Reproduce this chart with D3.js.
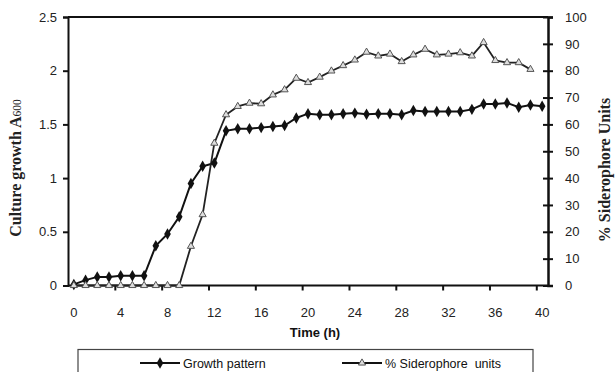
<!DOCTYPE html>
<html>
<head>
<meta charset="utf-8">
<script src="https://cdn.jsdelivr.net/npm/d3@7"></script>
<style>
  body { margin: 0; background: #fff; }
  svg { display: block; }
</style>
</head>
<body>
<div id="chart"></div>
<script>
// hours 0..40
const hours = d3.range(0, 41);

// culture growth (A600), left axis
const growth = [0.01, 0.05, 0.08, 0.08, 0.09, 0.09, 0.09, 0.37, 0.48, 0.64,
  0.95, 1.11, 1.14, 1.44, 1.46, 1.46, 1.47, 1.48, 1.49, 1.56,
  1.60, 1.59, 1.59, 1.60, 1.605, 1.595, 1.60, 1.60, 1.59, 1.63,
  1.62, 1.62, 1.62, 1.62, 1.64, 1.69, 1.69, 1.70, 1.66, 1.68, 1.67];

// % siderophore units, right axis (no reading at 40 h)
const sidero = [0, 0, 0, 0, 0, 0, 0, 0, 0, 0,
  14.6, 26.4, 53, 63.6, 66.7, 67.9, 67.7, 71, 72.9, 77.2,
  75.6, 77.6, 79.9, 81.9, 84, 86.9, 85.5, 86.2, 83.4, 85.9,
  88, 85.9, 86.2, 86.7, 85.5, 90.5, 83.8, 83, 83, 80.5];

const xLabels = [0, 4, 8, 12, 16, 20, 24, 28, 32, 36, 40];
const leftTicks = [0, 0.5, 1, 1.5, 2, 2.5];
const rightTicks = [0, 10, 20, 30, 40, 50, 60, 70, 80, 90, 100];
const seriesNames = ['Growth pattern', '% Siderophore  units'];

const W = 616, H = 372;
const plot = { left: 68, right: 548, top: 17, bottom: 285.5 };

const svg = d3.select('#chart').append('svg')
  .attr('width', W).attr('height', H);

const x = d3.scaleLinear().domain([-0.5, 40.5]).range([plot.left, plot.right]);
const yL = d3.scaleLinear().domain([0, 2.5]).range([plot.bottom, plot.top]);
const yR = d3.scaleLinear().domain([0, 100]).range([plot.bottom, plot.top]);

const tickFont = 'Liberation Sans, Arial, sans-serif';

// top border
svg.append('line')
  .attr('x1', plot.left).attr('x2', plot.right)
  .attr('y1', plot.top).attr('y2', plot.top)
  .attr('stroke', '#111').attr('stroke-width', 2);

// left axis
const gL = svg.append('g')
  .attr('transform', 'translate(' + plot.left + ',0)')
  .call(d3.axisLeft(yL).tickValues(leftTicks).tickFormat(d3.format('~g')).tickSize(5).tickPadding(6));

// right axis
const gR = svg.append('g')
  .attr('transform', 'translate(' + plot.right + ',0)')
  .call(d3.axisRight(yR).tickValues(rightTicks).tickSize(5).tickPadding(12));
gR.selectAll('.tick line').attr('x1', -5);

// bottom axis: ticks between categories, labels on categories
const gB = svg.append('g')
  .attr('transform', 'translate(0,' + plot.bottom + ')')
  .call(d3.axisBottom(x).tickValues(d3.range(3.5, 40, 4)).tickSize(5).tickFormat(''));
gB.select('.domain').attr('d', 'M' + plot.left + ',0H' + plot.right);

svg.append('g').selectAll('text')
  .data(xLabels).join('text')
  .attr('x', d => x(d))
  .attr('y', 317)
  .attr('text-anchor', 'middle')
  .attr('font-family', tickFont)
  .attr('font-size', 13)
  .attr('fill', '#222')
  .text(d => d);

[gL, gR, gB].forEach(g => {
  g.select('.domain').attr('stroke', '#111').attr('stroke-width', 2);
  g.selectAll('.tick line').attr('stroke', '#111').attr('stroke-width', 2);
  g.selectAll('.tick text').attr('font-family', tickFont).attr('font-size', 13).attr('fill', '#222');
});
gR.select('.domain').attr('stroke-width', 2.5);

// lines
const lineG = d3.line().x((d, i) => x(hours[i])).y(d => yL(d));
const lineS = d3.line().x((d, i) => x(hours[i])).y(d => yR(d));

svg.append('path').datum(growth)
  .attr('fill', 'none').attr('stroke', '#111').attr('stroke-width', 2)
  .attr('d', lineG);

svg.append('path').datum(sidero)
  .attr('fill', 'none').attr('stroke', '#222').attr('stroke-width', 1.8)
  .attr('d', lineS);

const diamond = d3.symbol().type(d3.symbolDiamond).size(38);
const triangle = d3.symbol().type(d3.symbolTriangle).size(22);

svg.append('g').selectAll('path')
  .data(growth).join('path')
  .attr('transform', (d, i) => 'translate(' + x(hours[i]) + ',' + yL(d) + ')')
  .attr('d', diamond)
  .attr('fill', '#111');

svg.append('g').selectAll('path')
  .data(sidero).join('path')
  .attr('transform', (d, i) => 'translate(' + x(hours[i]) + ',' + yR(d) + ')')
  .attr('d', triangle)
  .attr('fill', '#ddd')
  .attr('stroke', '#555')
  .attr('stroke-width', 1);

// axis titles
svg.append('text')
  .attr('transform', 'translate(21,168) rotate(-90)')
  .attr('text-anchor', 'middle')
  .attr('font-family', 'Liberation Serif, Times New Roman, serif')
  .attr('font-weight', 'bold')
  .attr('font-size', 16)
  .attr('fill', '#222')
  .text('Culture growth A')
  .append('tspan')
  .attr('font-size', 11.5)
  .attr('font-weight', 'normal')
  .text('600');

svg.append('text')
  .attr('transform', 'translate(610,170) rotate(-90)')
  .attr('text-anchor', 'middle')
  .attr('font-family', 'Liberation Serif, Times New Roman, serif')
  .attr('font-weight', 'bold')
  .attr('font-size', 16)
  .attr('fill', '#222')
  .text('% Siderophore Units');

svg.append('text')
  .attr('x', 315).attr('y', 337)
  .attr('text-anchor', 'middle')
  .attr('font-family', tickFont)
  .attr('font-weight', 'bold')
  .attr('font-size', 13)
  .attr('fill', '#111')
  .text('Time (h)');

// legend
const legend = svg.append('g');
legend.append('rect')
  .attr('x', 78).attr('y', 349.5)
  .attr('width', 455).attr('height', 40)
  .attr('fill', '#fff').attr('stroke', '#444').attr('stroke-width', 1.2);

const legItems = [
  { name: seriesNames[0], x0: 140, sym: diamond, fill: '#111', stroke: 'none' },
  { name: seriesNames[1], x0: 342, sym: triangle, fill: '#ddd', stroke: '#555' }
];
legItems.forEach(it => {
  const g = legend.append('g').attr('transform', 'translate(' + it.x0 + ',363)');
  g.append('line').attr('x1', 0).attr('x2', 40).attr('stroke', '#111').attr('stroke-width', 2);
  g.append('path').attr('transform', 'translate(20,0)').attr('d', it.sym)
    .attr('fill', it.fill).attr('stroke', it.stroke);
  g.append('text').attr('x', 43).attr('y', 4.5)
    .style('white-space', 'pre')
    .attr('font-family', tickFont).attr('font-size', 12.5).attr('fill', '#111')
    .text(it.name);
});
</script>
</body>
</html>
